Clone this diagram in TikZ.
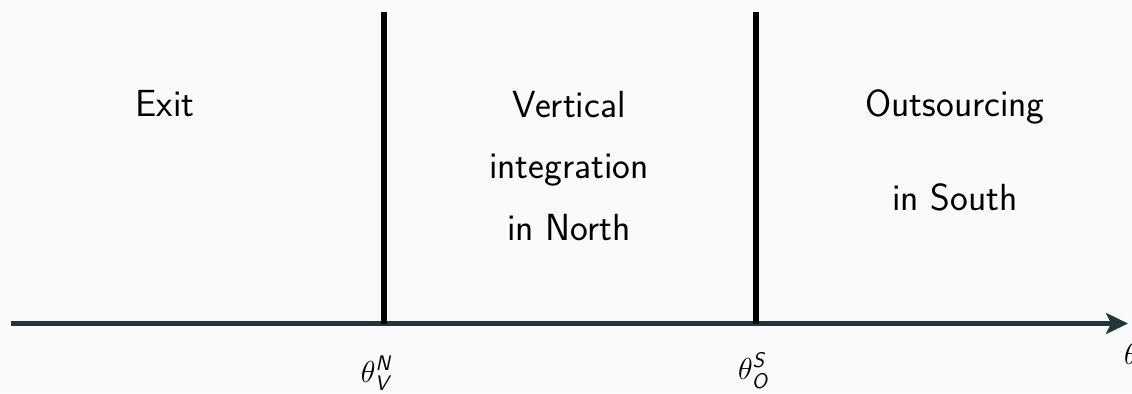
\documentclass[tikz,border=0pt]{standalone}
\usepackage{amsmath}
\usepackage{tikz}
\usetikzlibrary{arrows.meta,positioning}
\definecolor{axisteal}{HTML}{23373B}
\definecolor{bggray}{HTML}{FAFAFA}
\newcommand{\sfit}[1]{\textsf{\itshape #1}}

\begin{document}
\begin{tikzpicture}[
    x=0.02cm, y=-0.02cm,
    region/.style={font=\fontsize{21.5}{35}\sffamily, align=center, anchor=base},
    cutoff/.style={line width=0.12cm, black},
    axis/.style={-{Stealth[length=0.44cm, width=0.42cm, inset=0.1cm]}, line width=0.1cm, axisteal},
    thr/.style={font=\fontsize{17.28}{21}\selectfont, anchor=base},
]
\fill[bggray] (0,0) rectangle (1132,393);
\useasboundingbox (0,0) rectangle (1132,393);
\coordinate (origin) at (11,323.5);
\coordinate (axend) at (1128,323.5);
\coordinate (vntop) at (384,12);
\coordinate (vnbot) at (384,323.5);
\coordinate (ostop) at (756,12);
\coordinate (osbot) at (756,323.5);

% regions between the thresholds
\node[region] (exit) at (165,116) {Exit};
\node[region] (vint) at (569,240) {Vertical\\integration\\in North};
\node[region, font=\fontsize{21.5}{53}\sffamily] (outs) at (955,210) {Outsourcing\\in South};

\draw[axis] (origin) -- (axend);
\draw[cutoff] (vntop) -- (vnbot);
\draw[cutoff] (ostop) -- (osbot);

\node[thr] (thetavn) at (376,382) {$\theta^{\sfit{N}}_{\sfit{V}}$};
\node[thr] (thetaos) at (753,379) {$\theta^{\sfit{S}}_{\sfit{O}}$};
\node[thr, anchor=base west] (theta) at (1118,364) {$\theta$};
\end{tikzpicture}
\end{document}
